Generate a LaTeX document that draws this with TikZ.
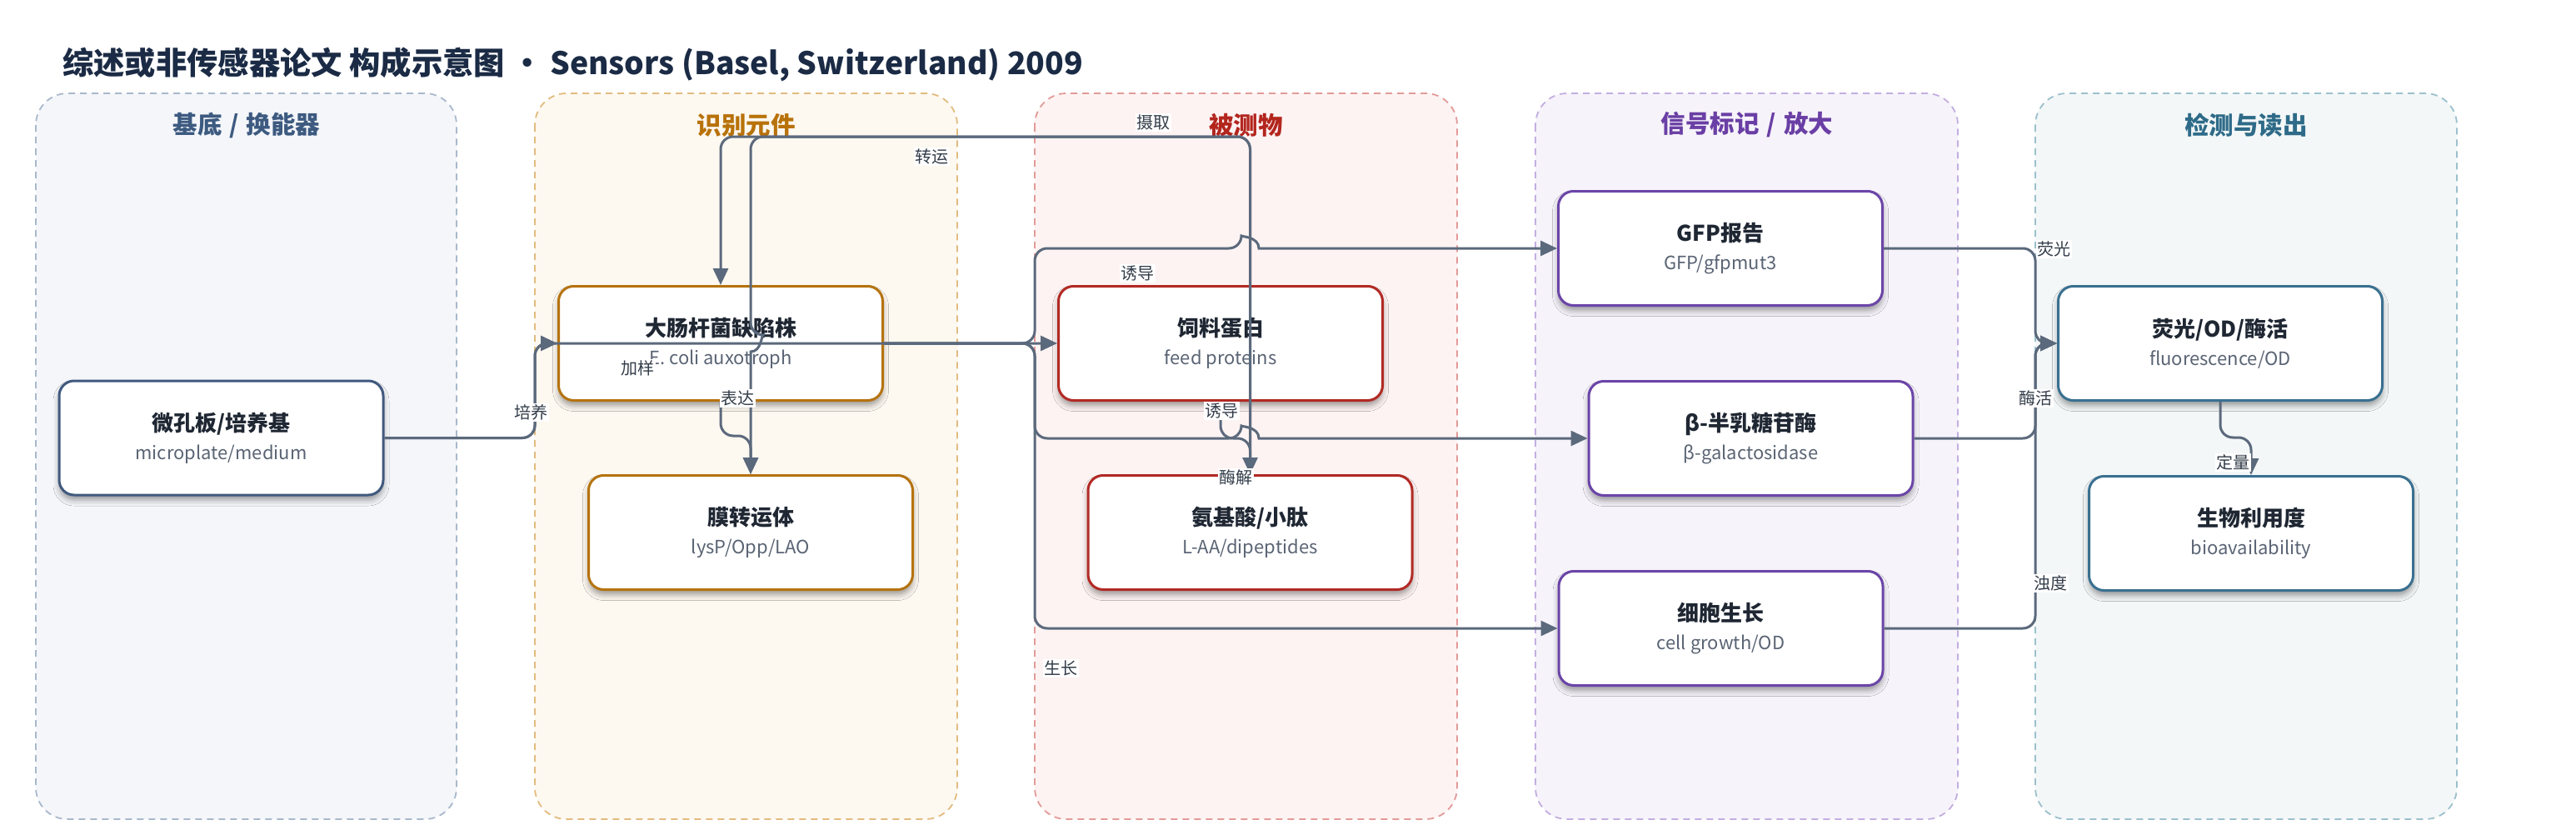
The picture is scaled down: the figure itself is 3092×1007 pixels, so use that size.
\documentclass[tikz,border=0pt]{standalone}
\usepackage{fontspec}
\setmainfont{Noto Sans CJK SC}
\usetikzlibrary{arrows.meta,shadows.blur}
\definecolor{cTitle}{HTML}{1B2B45}
\definecolor{cEdge}{HTML}{5B697C}
\definecolor{cLbl}{HTML}{333D4A}
\definecolor{cNT}{HTML}{1F2733}
\definecolor{cNS}{HTML}{5A6474}
\definecolor{lAf}{HTML}{F4F6FA}\definecolor{lAd}{HTML}{A9B8CB}\definecolor{lAh}{HTML}{3D5A80}
\definecolor{lBf}{HTML}{FDF8F0}\definecolor{lBd}{HTML}{E2BB7E}\definecolor{lBh}{HTML}{B8720A}
\definecolor{lCf}{HTML}{FDF3F2}\definecolor{lCd}{HTML}{E29A98}\definecolor{lCh}{HTML}{B3261E}
\definecolor{lDf}{HTML}{F6F3FA}\definecolor{lDd}{HTML}{C3AEE0}\definecolor{lDh}{HTML}{6A3FA5}
\definecolor{lEf}{HTML}{F3F7F8}\definecolor{lEd}{HTML}{9CC0CC}\definecolor{lEh}{HTML}{2E6B88}
\definecolor{bA}{HTML}{41597E}
\definecolor{bB}{HTML}{B5730F}
\definecolor{bC}{HTML}{B22A25}
\definecolor{bD}{HTML}{6B45A8}
\definecolor{bE}{HTML}{3A7090}
\newcommand{\nt}[1]{{\fontsize{26}{30}\selectfont\bfseries\color{cNT}#1}}
\newcommand{\ns}[1]{{\fontsize{22}{26}\selectfont\color{cNS}#1}}
\newcommand{\hsl}{\hspace{0.3em}/\hspace{0.3em}}
\begin{document}
\begin{tikzpicture}[x=1pt,y=-1pt,
  lane/.style={rounded corners=38pt, dash pattern=on 8pt off 6pt, line width=1.8pt},
  hdr/.style={font=\fontsize{29.5}{32}\selectfont\bfseries, inner sep=0pt},
  box/.style={rectangle, rounded corners=18pt, line width=3pt, fill=white,
    minimum width=389pt, minimum height=137pt, align=center, inner sep=0pt,
    font=\fontsize{22}{34}\selectfont,
    blur shadow={shadow xshift=0pt, shadow yshift=-6pt, shadow blur radius=7pt, shadow opacity=38}},
  edge/.style={draw=cEdge, line width=3pt, rounded corners=15pt,
    -{Triangle[length=20pt,width=18pt]}},
  lbl/.style={fill=white, inner sep=1.5pt, text=cLbl, font=\fontsize{20}{22}\selectfont}
]
\useasboundingbox (0,0) rectangle (3092,1007);
\fill[white] (0,0) rectangle (3092,1007);

\node[anchor=west, font=\fontsize{37.3}{40}\selectfont\bfseries, text=cTitle, inner sep=0pt] (title) at (75,77)
  {综述或非传感器论文 构成示意图 · Sensors (Basel, Switzerland) 2009};

% lanes
\draw[lane, draw=lAd, fill=lAf] (43,112) rectangle (548,983);
\draw[lane, draw=lBd, fill=lBf] (642,112) rectangle (1149,983);
\draw[lane, draw=lCd, fill=lCf] (1242,112) rectangle (1749,983);
\draw[lane, draw=lDd, fill=lDf] (1843,112) rectangle (2350,983);
\draw[lane, draw=lEd, fill=lEf] (2443,112) rectangle (2949,983);
\node[hdr, text=lAh] (h1) at (296,150) {基底\hsl 换能器};
\node[hdr, text=lBh] (h2) at (895.5,150) {识别元件};
\node[hdr, text=lCh] (h3) at (1495.5,150) {被测物};
\node[hdr, text=lDh] (h4) at (2097,150) {信号标记\hsl 放大};
\node[hdr, text=lEh] (h5) at (2696,150) {检测与读出};

% nodes
\node[box, draw=bA] (mp) at (265.5,525.5) {\nt{微孔板/培养基}\\\ns{microplate/medium}};
\node[box, draw=bB] (ec) at (865,412) {\nt{大肠杆菌缺陷株}\\\ns{E. coli auxotroph}};
\node[box, draw=bB] (mt) at (901,639) {\nt{膜转运体}\\\ns{lysP/Opp/LAO}};
\node[box, draw=bC] (fp) at (1465,412) {\nt{饲料蛋白}\\\ns{feed proteins}};
\node[box, draw=bC] (aa) at (1500.5,639) {\nt{氨基酸/小肽}\\\ns{L-AA/dipeptides}};
\node[box, draw=bD] (gfp) at (2065,298) {\nt{GFP报告}\\\ns{GFP/gfpmut3}};
\node[box, draw=bD] (bgal) at (2101.5,526) {\nt{β-半乳糖苷酶}\\\ns{β-galactosidase}};
\node[box, draw=bD] (cg) at (2065.5,754) {\nt{细胞生长}\\\ns{cell growth/OD}};
\node[box, draw=bE] (fl) at (2665,412) {\nt{荧光/OD/酶活}\\\ns{fluorescence/OD}};
\node[box, draw=bE] (ba) at (2702,640) {\nt{生物利用度}\\\ns{bioavailability}};

% edges
\draw[edge] (mp.east) -- (642,525.5) |- (ec.west);
\draw[edge] (mp.east) -- (642,525.5) |- (fp.west);
\draw[edge] (ec.south) -- (865,523) -- (901,523) -- (mt.north);
\draw[edge] (ec.east) -- (1242,412) |- (1490,298) [sharp corners] .. controls (1490,284) and (1511,284) .. (1511,298) -- (gfp.west);
\draw[edge] (ec.east) -- (1242,412) |- (1490,526) [sharp corners] .. controls (1490,512) and (1511,512) .. (1511,526) -- (bgal.west);
\draw[edge] (ec.east) -- (1242,412) |- (cg.west);
\draw[edge] (fp.south) -- (1465,526) -- (1500.5,526) -- (aa.north);
\draw[edge] (aa.north) -- (1500.5,164) -| (ec.north);
\draw[edge] (aa.north) -- (1500.5,164) -| (901,402) [sharp corners] .. controls (914,402) and (914,422) .. (901,422) -- (mt.north);
\draw[edge] (gfp.east) -- (2443,298) |- (fl.west);
\draw[edge] (bgal.east) -- (2443,526) |- (fl.west);
\draw[edge] (cg.east) -- (2443,754) |- (fl.west);
\draw[edge] (fl.south) -- (2665,525) -- (2702,525) -- (ba.north);

% edge labels
\node[lbl] (l1) at (637,495) {培养};
\node[lbl] (l2) at (765,442) {加样};
\node[lbl] (l3) at (885,478) {表达};
\node[lbl] (l4) at (1365,328) {诱导};
\node[lbl] (l5) at (1466,493) {诱导};
\node[lbl] (l6) at (1273,802) {生长};
\node[lbl] (l7) at (1483,573) {酶解};
\node[lbl] (l8) at (1384,147) {摄取};
\node[lbl] (l9) at (1118,188) {转运};
\node[lbl] (l10) at (2465,299) {荧光};
\node[lbl] (l11) at (2443,478) {酶活};
\node[lbl] (l12) at (2461,700) {浊度};
\node[lbl] (l13) at (2680,555) {定量};
\end{tikzpicture}
\end{document}
